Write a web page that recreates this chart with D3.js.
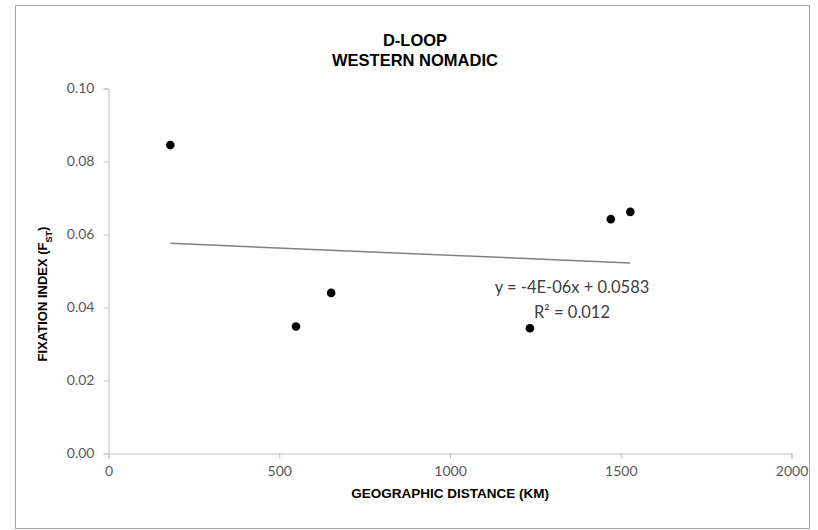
<!DOCTYPE html>
<html>
<head>
<meta charset="utf-8">
<script src="https://cdn.jsdelivr.net/npm/d3@7"></script>
<style>
  body { margin: 0; background: #fff; }
  text { font-family: "Liberation Sans", Arial, sans-serif; }
</style>
</head>
<body>
<div id="chart"></div>
<script>
// distance (km) vs Fst
const distKm = [181, 549, 652, 1234, 1471, 1528];
const fst = [0.0845, 0.0348, 0.0440, 0.0343, 0.0642, 0.0662];
const xTicks = [0, 500, 1000, 1500, 2000];
const yTicks = [0, 0.02, 0.04, 0.06, 0.08, 0.10];
const slope = -4e-6, intercept = 0.0583;
const eqLines = ["y = -4E-06x + 0.0583", "R² = 0.012"];
const titleLines = ["D-LOOP", "WESTERN NOMADIC"];

const W = 818, H = 530;
const svg = d3.select("#chart").append("svg")
    .attr("width", W).attr("height", H);

svg.append("rect")
    .attr("x", 15.5).attr("y", 5.5)
    .attr("width", 794).attr("height", 523)
    .attr("fill", "#fff").attr("stroke", "#a6a6a6");

const x = d3.scaleLinear().domain([0, 2000]).range([108.5, 791.5]);
const y = d3.scaleLinear().domain([0, 0.10]).range([453.5, 88.5]);

// axes
const xAxis = svg.append("g")
    .attr("transform", `translate(0,${y(0)})`)
    .call(d3.axisBottom(x).tickValues(xTicks).tickFormat(d3.format("d")).tickSizeOuter(0).tickSize(5).tickPadding(8));
const yAxis = svg.append("g")
    .attr("transform", `translate(${x(0)},0)`)
    .call(d3.axisLeft(y).tickValues(yTicks).tickFormat(d3.format(".2f")).tickSizeOuter(0).tickSize(5).tickPadding(9));

[xAxis, yAxis].forEach(g => {
  g.select(".domain").attr("stroke", "#bfbfbf");
  g.selectAll(".tick line").attr("stroke", "#bfbfbf");
  g.selectAll(".tick text")
    .attr("fill", "#595959")
    .style("font-family", "Lato, sans-serif")
    .style("font-size", "14px");
});

// trendline over data range
const xr = d3.extent(distKm);
svg.append("line")
    .attr("x1", x(xr[0])).attr("y1", y(slope * xr[0] + intercept))
    .attr("x2", x(xr[1])).attr("y2", y(slope * xr[1] + intercept))
    .attr("stroke", "#808080").attr("stroke-width", 1.5);

// points
svg.append("g").selectAll("circle")
    .data(distKm)
    .join("circle")
    .attr("cx", d => x(d))
    .attr("cy", (d, i) => y(fst[i]))
    .attr("r", 4.3)
    .attr("fill", "#000");

// equation label
svg.append("g").selectAll("text")
    .data(eqLines)
    .join("text")
    .attr("x", 572)
    .attr("y", (d, i) => 293 + i * 25)
    .attr("text-anchor", "middle")
    .attr("fill", "#404040")
    .style("font-family", "Lato, sans-serif")
    .style("font-size", "16.5px")
    .text(d => d);

// title
svg.append("g").selectAll("text")
    .data(titleLines)
    .join("text")
    .attr("x", 415)
    .attr("y", (d, i) => 46 + i * 20)
    .attr("text-anchor", "middle")
    .attr("fill", "#000")
    .style("font-size", "16.5px")
    .style("font-weight", "bold")
    .text(d => d);

// axis titles
svg.append("text")
    .attr("x", 450).attr("y", 498)
    .attr("text-anchor", "middle")
    .style("font-size", "13.5px")
    .style("font-weight", "bold")
    .text("GEOGRAPHIC DISTANCE (KM)");

const yt = svg.append("text")
    .attr("transform", "translate(47,294) rotate(-90)")
    .attr("text-anchor", "middle")
    .style("font-size", "13px")
    .style("font-weight", "bold");
yt.append("tspan").text("FIXATION INDEX (F");
yt.append("tspan").attr("baseline-shift", "sub").style("font-size", "9px").text("ST");
yt.append("tspan").text(")");
</script>
</body>
</html>
